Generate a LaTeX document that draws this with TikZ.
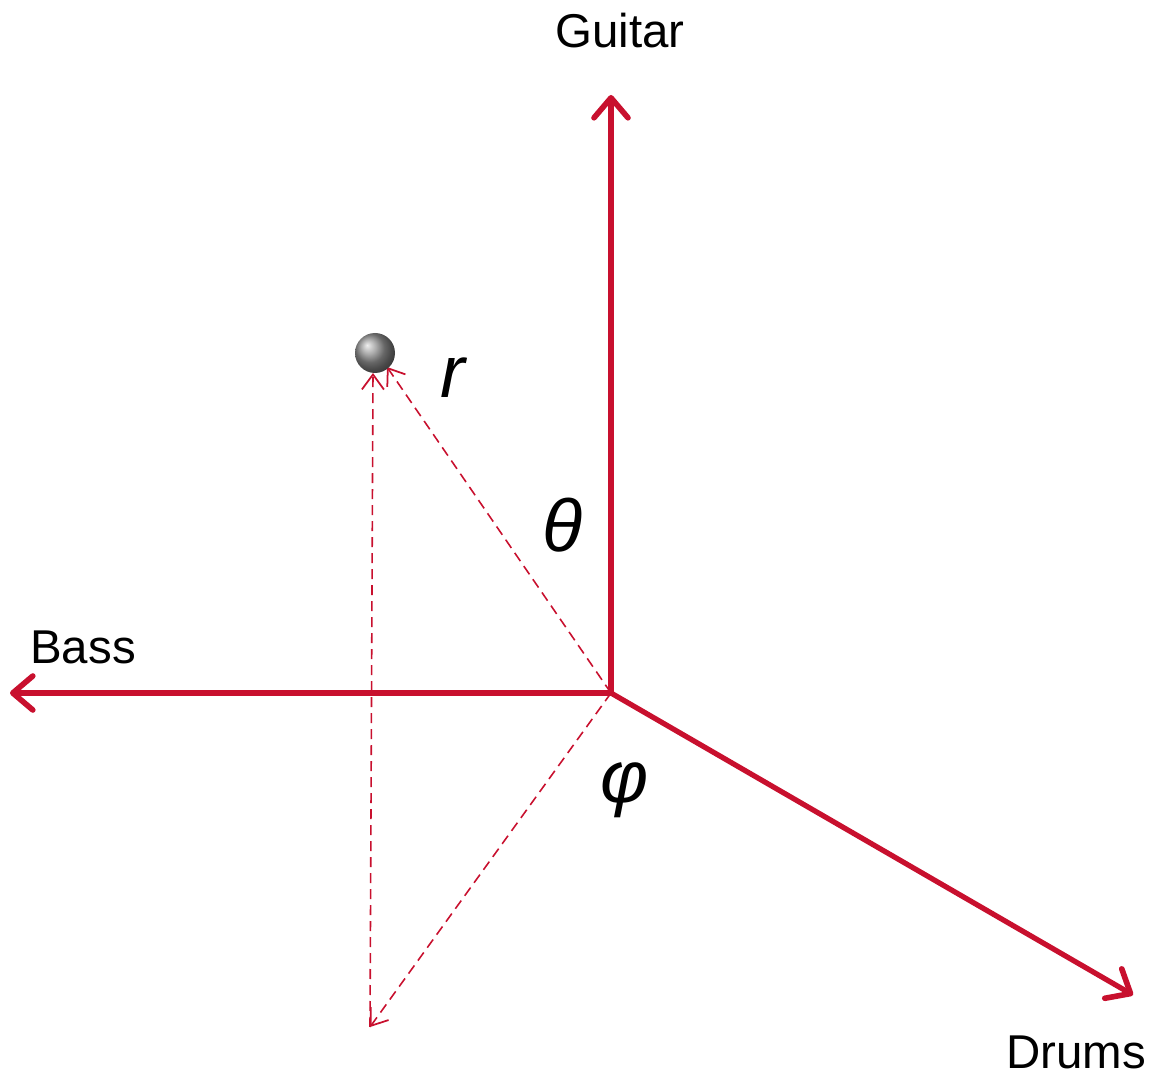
\documentclass[tikz,border=0pt]{standalone}
\usepackage{fontspec}
\setmainfont{Liberation Sans}
\usetikzlibrary{arrows.meta}
\definecolor{axisred}{RGB}{200,16,46}
\begin{document}
\begin{tikzpicture}[x=0.1mm,y=-0.1mm,
    axis/.style={axisred, line width=1.5pt, -{Straight Barb[length=2mm,width=3.4mm,line width=1.6pt,round]}},
    proj/.style={axisred, line width=0.45pt, dash pattern=on 1mm off 0.6mm, -{Straight Barb[length=1.5mm,width=2.2mm,line width=0.5pt]}},
    axlabel/.style={font=\fontsize{13.5pt}{16pt}\selectfont},
    anglabel/.style={font=\fontsize{21pt}{24pt}\selectfont\itshape}]
    \useasboundingbox (0,0) rectangle (1170,1076);
    \coordinate (O) at (611,693); \coordinate (G) at (611,95);
    \coordinate (B) at (10,693); \coordinate (D) at (1133,995);
    \coordinate (F) at (370,1027); \coordinate (P) at (375,353);
    \draw[axis] (O) -- (G);
    \draw[axis] (O) -- (B);
    \draw[axis] (O) -- (D);
    \draw[proj] (O) -- (F);
    \draw[proj] (F) -- (373,373);
    \draw[proj] (O) -- (387,367);
    \shade[ball color=gray!85] (P) circle (20);
    \node[axlabel] (guitar) at (620,31) {Guitar};
    \node[axlabel] (bass) at (83,647) {Bass};
    \node[axlabel] (drums) at (1076,1052) {Drums};
    \node[anglabel] (r) at (453,378) {r};
    \node[anglabel] (theta) at (563,525) {θ};
    \node[anglabel] (phi) at (625,790) {φ};
\end{tikzpicture}
\end{document}
